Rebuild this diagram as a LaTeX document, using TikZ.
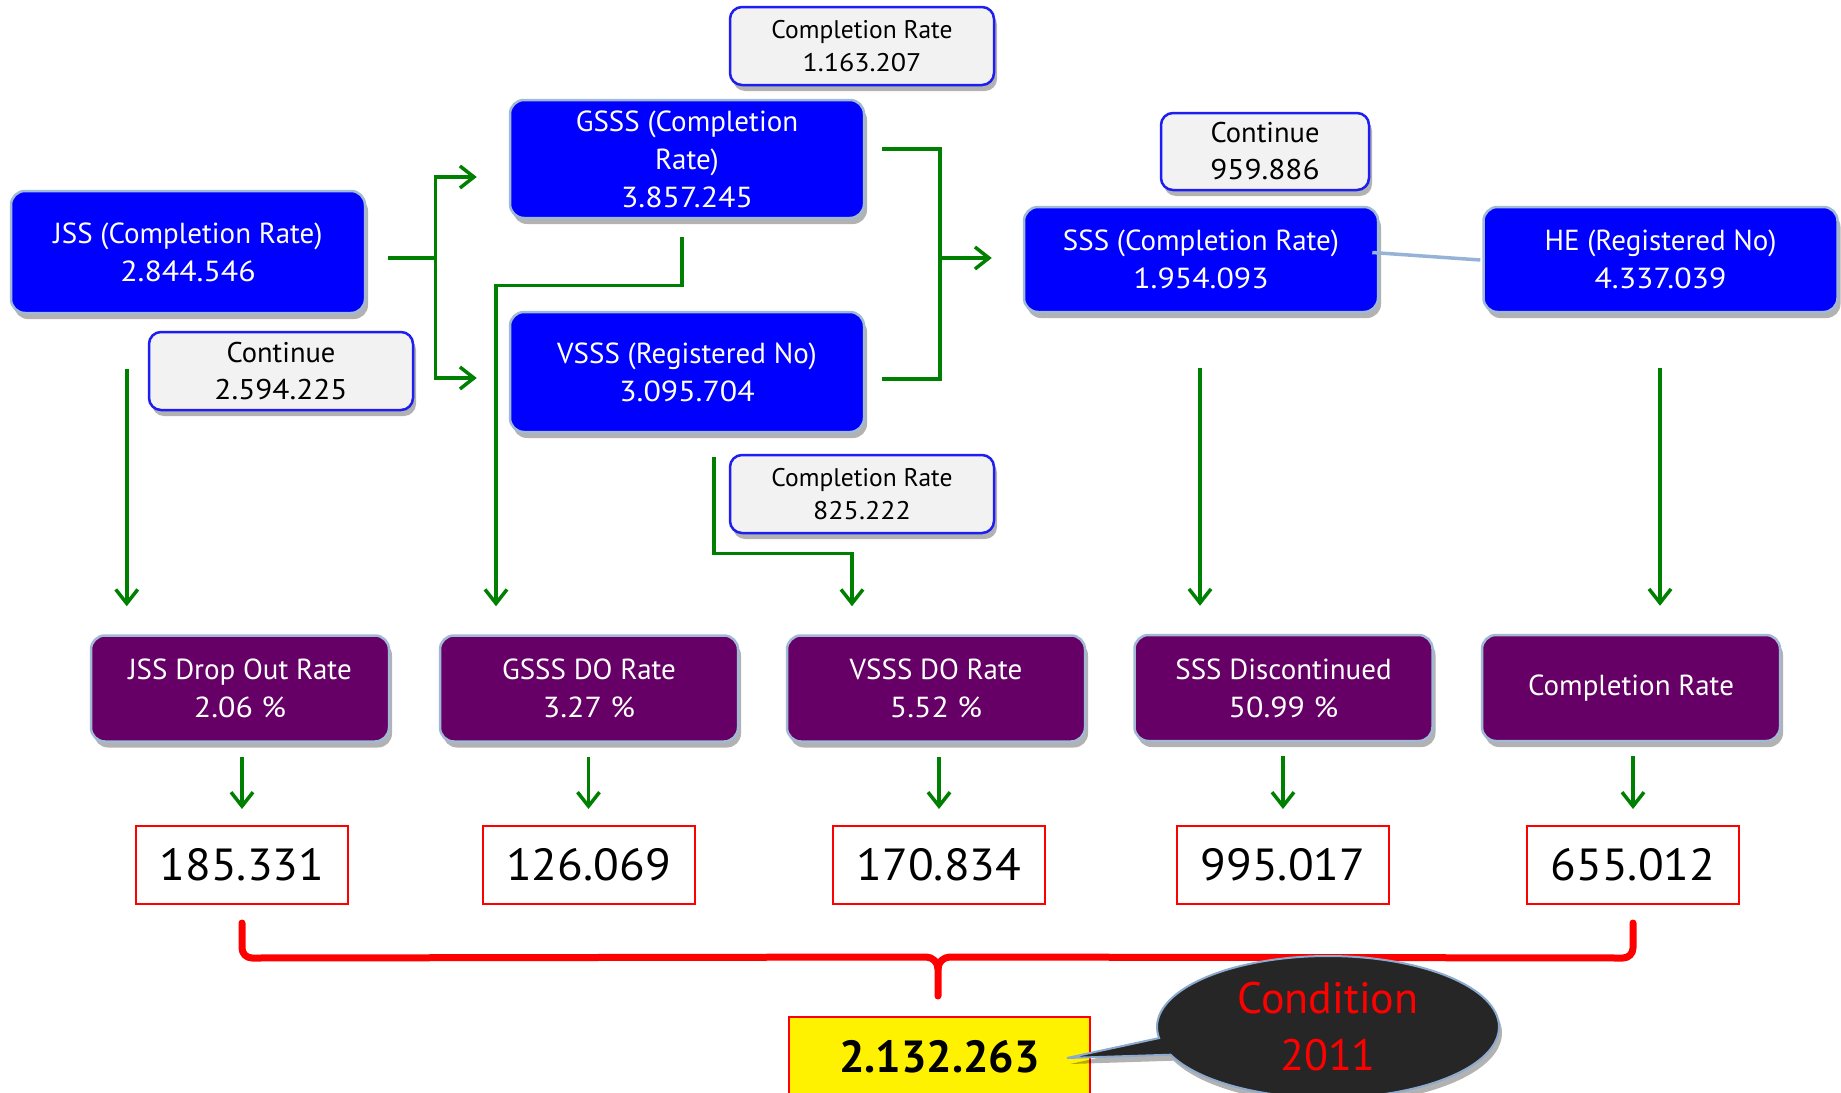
\documentclass[tikz,border=0pt]{standalone}
\usepackage{fontspec}
\setmainfont{PT Sans}
\newfontfamily\numfont[FakeStretch=1.1]{PT Sans}
\newfontfamily\bignumfont[FakeStretch=1.05]{PT Sans}
\usetikzlibrary{arrows.meta,shadows,shapes.callouts,calc}
\definecolor{bxblue}{RGB}{0,0,255}
\definecolor{bxedge}{RGB}{160,186,214}
\definecolor{bxpurple}{RGB}{102,0,102}
\definecolor{bxgray}{RGB}{242,242,242}
\definecolor{grayedge}{RGB}{30,30,240}
\definecolor{grn}{RGB}{0,128,0}
\definecolor{linkblue}{RGB}{149,179,215}
\definecolor{calloutfill}{RGB}{38,38,38}
\definecolor{calloutedge}{RGB}{140,170,205}
\begin{document}
\begin{tikzpicture}[x=1pt,y=1pt,
  shad/.style={drop shadow={shadow xshift=3pt,shadow yshift=-6pt,fill=black,opacity=0.3}},
  bluebox/.style={shad, rounded corners=14pt, fill=bxblue, draw=bxedge, line width=2.5pt,
    text=white, align=center, minimum width=354pt, inner sep=0pt,
    font=\fontsize{29}{38}\selectfont},
  graybox/.style={shad, rounded corners=12pt, fill=bxgray, draw=grayedge, line width=2.5pt,
    text=black, align=center, minimum width=264pt, minimum height=78pt, inner sep=0pt,
    font=\fontsize{25.5}{33}\selectfont},
  contbox/.style={graybox, font=\fontsize{28.5}{37}\selectfont},
  purplebox/.style={shad, rounded corners=14pt, fill=bxpurple, draw=bxedge, line width=2.5pt,
    text=white, align=center, minimum width=298pt, minimum height=106pt, inner sep=0pt,
    font=\fontsize{29}{38}\selectfont},
  numbox/.style={draw=red, line width=2pt, fill=white, minimum width=212pt, minimum height=78pt,
    inner sep=0pt, font=\fontsize{45}{50}\bignumfont},
  gline/.style={draw=grn, line width=3.5pt},
  garrow/.style={gline, -{Straight Barb[length=14pt,width=22pt]}},
  link/.style={draw=linkblue, line width=3.5pt},
  bracestyle/.style={draw=red, line width=7pt, line cap=round, line join=round}
]
\useasboundingbox (0,0) rectangle (1841,-1092);
\fill[white] (0,0) rectangle (1841,-1092);
\clip (0,0) rectangle (1841,-1092);

% upper boxes
\node[graybox] (cr1) at (862,-46) {Completion Rate\\{\numfont 1.163.207}};
\node[bluebox, minimum height=118pt] (gsss) at (687,-159) {GSSS (Completion\\Rate)\\{\numfont 3.857.245}};
\node[bluebox, minimum height=122pt] (jss) at (188,-252) {JSS (Completion Rate)\\{\numfont 2.844.546}};
\node[contbox] (cont1) at (281,-371) {Continue\\{\numfont 2.594.225}};
\node[bluebox, minimum height=120pt] (vsss) at (687,-372) {VSSS (Registered No)\\{\numfont 3.095.704}};
\node[contbox, minimum width=208pt, minimum height=77pt] (cont2) at (1265,-151.5) {Continue\\{\numfont 959.886}};
\node[bluebox, minimum height=105pt] (sss) at (1201,-259.5) {SSS (Completion Rate)\\{\numfont 1.954.093}};
\node[bluebox, minimum height=105pt] (he) at (1660.5,-259.5) {HE (Registered No)\\{\numfont 4.337.039}};
\node[graybox] (cr2) at (862,-494) {Completion Rate\\{\numfont 825.222}};

% purple boxes
\node[purplebox] (p1) at (240,-688.5) {JSS Drop Out Rate\\{\numfont 2.06 \%}};
\node[purplebox] (p2) at (589,-688.5) {GSSS DO Rate\\{\numfont 3.27 \%}};
\node[purplebox] (p3) at (936,-688.5) {VSSS DO Rate\\{\numfont 5.52 \%}};
\node[purplebox] (p4) at (1283.5,-688) {SSS Discontinued\\{\numfont 50.99 \%}};
\node[purplebox] (p5) at (1631,-688) {Completion Rate};

% number boxes
\node[numbox] (n1) at (242,-865) {185.331};
\node[numbox] (n2) at (588.5,-865) {126.069};
\node[numbox] (n3) at (939,-865) {170.834};
\node[numbox] (n4) at (1283,-865) {995.017};
\node[numbox] (n5) at (1633,-865) {655.012};

% connectors
\coordinate (fork) at ($(jss.east)+(69,-6)$);
\draw[gline] ($(jss.east)+(22,-6)$) -- (fork);
\draw[garrow] (fork) |- ($(gsss.west)+(-32,-18)$);
\draw[garrow] (fork) |- ($(vsss.west)+(-32,-6)$);

\coordinate (join) at ($(sss.west)+(-83,1.5)$);
\draw[gline] ($(gsss.east)+(17,10)$) -| (join);
\draw[gline] ($(vsss.east)+(17,-7)$) -| (join);
\draw[garrow] (join) -- ($(sss.west)+(-31,1.5)$);

\draw[garrow] ($(gsss.south)+(-5,-18)$) -- ++(0,-48) -| ($(p2.north)+(-93,28)$);
\draw[garrow] ($(vsss.south)+(27,-24)$) -- ++(0,-96) -| ($(p3.north)+(-84,28)$);
\draw[garrow] ($(jss.south west)+(117,-55)$) -- ($(p1.north west)+(37,28)$);
\draw[garrow] ($(sss.south)+(-1,-55)$) -- ($(p4.north)+(-83.5,28)$);
\draw[garrow] ($(he.south)+(-0.5,-55)$) -- ($(p5.north)+(29,28)$);
\draw[link] ($(sss.east)+(-7,7)$) -- ($(he.west)+(-2,-0.5)$);

\foreach \i in {1,...,5}
  \draw[garrow] ($(p\i.south -| n\i.north)+(0,-14)$) -- ($(n\i.north)+(0,16)$);

% total box
\node[draw=red, line width=2pt, fill=yellow, minimum width=301pt, minimum height=80pt,
  inner sep=0pt, font=\fontsize{45}{50}\selectfont\bfseries] (tot) at (939.5,-1057) {2.132.263};

% brace
\coordinate (bl) at ($(n1.south)+(0,-18)$);
\coordinate (br) at ($(n5.south)+(0,-18)$);
\coordinate (tip) at ($(tot.north)+(-1.5,20)$);
\draw[bracestyle] (bl) -- ++(0,-25) to[out=-90,in=180] ++(10,-10)
  -- ($(tip)+(-12,39)$) to[out=0,in=90] ($(tip)+(0,27)$) -- (tip);
\draw[bracestyle] ($(tip)+(0,27)$) to[out=90,in=180] ($(tip)+(12,39)$)
  -- ($(br)+(-10,-35)$) to[out=0,in=-90] ($(br)+(0,-25)$) -- (br);

% callout
\node[ellipse callout, shad, fill=calloutfill, draw=calloutedge, line width=2pt,
  minimum width=342pt, minimum height=142pt, inner sep=0pt,
  callout absolute pointer={($(tot.east)+(-24,-1)$)}, callout pointer arc=14,
  text=red, align=center, font=\fontsize{44}{57}\selectfont] (cond) at (1328,-1027) {Condition\\2011};
\end{tikzpicture}
\end{document}
